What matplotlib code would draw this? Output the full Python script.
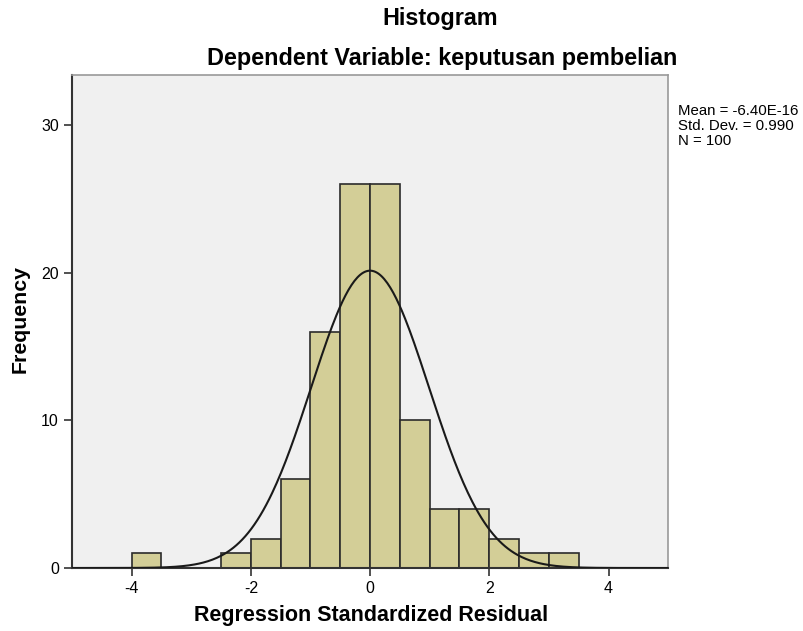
import numpy as np
import matplotlib
matplotlib.use("Agg")
import matplotlib.pyplot as plt

plt.rcParams['font.family'] = ['Liberation Sans', 'DejaVu Sans']
plt.rcParams['axes.unicode_minus'] = False

# histogram data (bin edges and counts)
bin_left = [-4.0, -2.5, -2.0, -1.5, -1.0, -0.5, 0.0, 0.5, 1.0, 1.5, 2.0, 2.5, 3.0]
counts = [1, 1, 2, 6, 16, 26, 26, 10, 4, 4, 2, 1, 1]
bin_width = 0.5
mean = -6.40e-16
std = 0.990
n = 100

fig = plt.figure(figsize=(8.04, 6.31), dpi=100)
ax = fig.add_axes([0.0896, 0.0998, 0.7414, 0.7812])
ax.set_facecolor('#F0F0F0')

ax.bar(bin_left, counts, width=bin_width, align='edge', color='#D3CE97',
       edgecolor='#2b2b2b', linewidth=1.2, zorder=2)

x = np.linspace(-5, 5, 400)
y = n * bin_width / (std * np.sqrt(2 * np.pi)) * np.exp(-0.5 * ((x - mean) / std) ** 2)
ax.plot(x, y, color='#1a1a1a', linewidth=1.5, zorder=3)

ax.set_xlim(-5, 5)
ax.set_ylim(0, 33.4)
ax.set_xticks([-4, -2, 0, 2, 4])
ax.set_yticks([0, 10, 20, 30])
ax.tick_params(direction='out', length=6, width=1.2, labelsize=11.5, color='#333333')
for s in ['left', 'bottom']:
    ax.spines[s].set_color('#333333')
    ax.spines[s].set_linewidth(1.5)
for s in ['top', 'right']:
    ax.spines[s].set_color('#999999')
    ax.spines[s].set_linewidth(1.2)

fig.text(0.461, 0.025, 'Regression Standardized Residual', ha='center', va='center',
         fontsize=15.5, fontweight='bold')
fig.text(0.025, 0.495, 'Frequency', ha='center', va='center', rotation=90,
         fontsize=15.3, fontweight='bold')

fig.text(0.547, 0.971, 'Histogram', ha='center', va='center', fontsize=16.8, fontweight='bold')
fig.text(0.550, 0.908, 'Dependent Variable: keputusan pembelian', ha='center', va='center',
         fontsize=16.8, fontweight='bold')
fig.text(0.843, 0.800, 'Mean = -6.40E-16\nStd. Dev. = 0.990\nN = 100', ha='left', va='center',
         fontsize=10.8, linespacing=1.1)

fig.savefig('out.png', dpi=100)
